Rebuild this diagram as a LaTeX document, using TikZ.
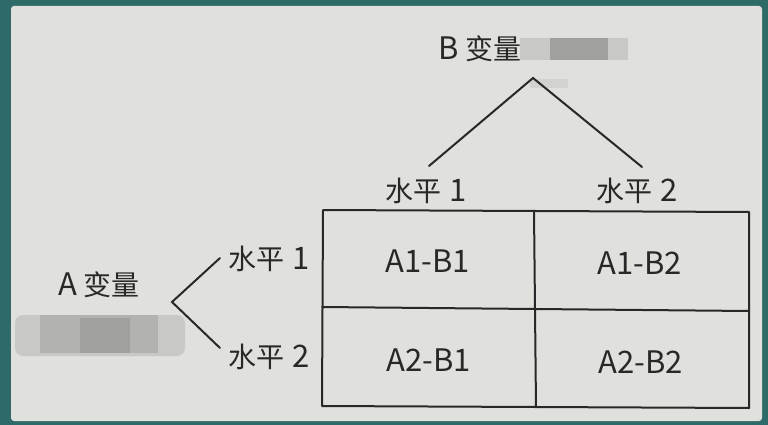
\documentclass[tikz,border=0pt]{standalone}
\usepackage{fontspec}
\setmainfont{Noto Sans CJK SC}
\newcommand\zh[1]{{\fontsize{28}{30}\selectfont #1}}
\newcommand\la[1]{{\fontsize{31}{34}\selectfont #1}}
\definecolor{teal0}{RGB}{46,107,104}
\definecolor{paper}{RGB}{224,225,221}
\definecolor{ink}{RGB}{40,40,40}
\definecolor{blurA}{RGB}{178,178,176}
\definecolor{blurB}{RGB}{160,160,158}
\definecolor{blurC}{RGB}{200,200,197}
\tikzset{
  lbl/.style={inner sep=0pt, text=ink},
  rule/.style={draw=ink, line width=2pt, line cap=round, line join=round},
  tree/.style={draw=ink, line width=2pt, line cap=round, line join=miter}
}
\begin{document}
\begin{tikzpicture}[x=1pt, y=-1pt]
\useasboundingbox (0,0) rectangle (768,425);
% photo background
\fill[teal0] (0,0) rectangle (768,425);
\fill[paper, rounded corners=3pt] (11,6) rectangle (762,421);
% blurred patches
\fill[blurC] (520,38) rectangle (628,60);
\fill[blurB] (550,38) rectangle (608,60);
\fill[blurC!60!paper] (530,79) rectangle (568,88);
\fill[blurC, rounded corners=8pt] (15,315) rectangle (185,356);
\fill[blurA] (40,315) rectangle (158,353);
\fill[blurB] (80,318) rectangle (130,353);

% labels
\node[lbl] (bvar) at (480,49) {\la{B}\hspace{6pt}\zh{变量}};
\node[lbl] (avar) at (99,285) {\la{A}\hspace{6pt}\zh{变量}};
\node[lbl] (c1) at (426,191) {\zh{水平}\hspace{8pt}\la{1}};
\node[lbl] (c2) at (637,191) {\zh{水平}\hspace{8pt}\la{2}};
\node[lbl] (r1) at (269,259) {\zh{水平}\hspace{8pt}\la{1}};
\node[lbl] (r2) at (269,357) {\zh{水平}\hspace{8pt}\la{2}};

% tree lines
\coordinate (bapex) at (533,78);
\coordinate (bl) at (429,166);
\coordinate (br) at (642,167);
\draw[tree] (bl) -- (bapex) -- (br);
\coordinate (aapex) at (172,302);
\coordinate (au) at (220,258);
\coordinate (ad) at (220,348);
\draw[tree] (au) -- (aapex) -- (ad);

% table
\coordinate (tl) at (323,210);
\coordinate (tr) at (749,212);
\coordinate (brc) at (749,408);
\coordinate (blc) at (322,406);
\coordinate (vt) at (534,211);
\coordinate (vb) at (536,407);
\coordinate (hl) at (322,307);
\coordinate (hr) at (749,311);
\draw[rule] (tl) -- (tr) -- (brc) -- (blc) -- cycle;
\draw[rule] (vt) -- (vb);
\draw[rule] (hl) -- (hr);

% cells
\node[lbl] (a1b1) at (428,261) {\la{A1-B1}};
\node[lbl] (a1b2) at (640,263) {\la{A1-B2}};
\node[lbl] (a2b1) at (429,360) {\la{A2-B1}};
\node[lbl] (a2b2) at (641,362) {\la{A2-B2}};
\end{tikzpicture}
\end{document}
